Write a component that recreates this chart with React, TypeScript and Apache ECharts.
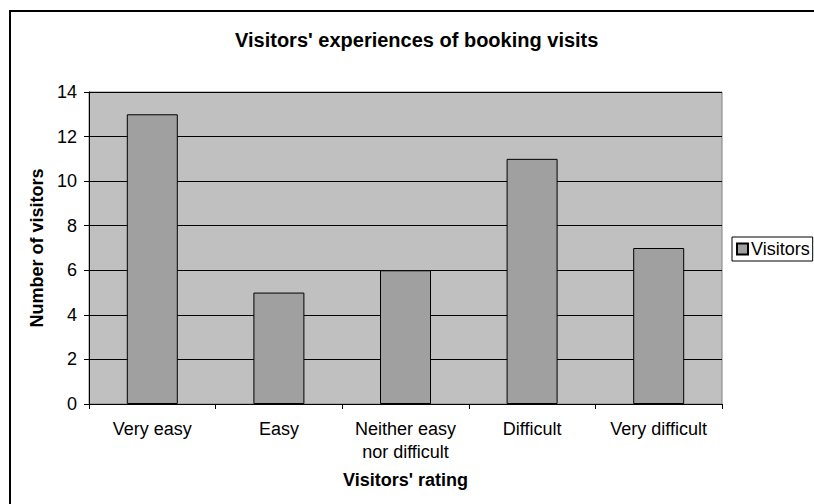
import React, { useEffect, useRef } from "react";
import * as echarts from "echarts";

const categories = ["Very easy", "Easy", "Neither easy\nnor difficult", "Difficult", "Very difficult"];
const visitors = [13, 5, 6, 11, 7];
const seriesName = "Visitors";
const titleText = "Visitors' experiences of booking visits";
const xAxisName = "Visitors' rating";
const yAxisName = "Number of visitors";
const yTicks = { min: 0, max: 14, interval: 2 };

const FONT = "'Liberation Sans', Arial, Helvetica, sans-serif";

export default function App() {
  const ref = useRef<HTMLDivElement>(null);
  useEffect(() => {
    if (!ref.current) return;
    const chart = echarts.init(ref.current, null, { renderer: "svg" });
    chart.setOption({
      animation: false,
      backgroundColor: "#ffffff",
      textStyle: { fontFamily: FONT },
      title: {
        text: titleText,
        left: 235,
        top: 30,
        padding: 0,
        textStyle: { fontFamily: FONT, fontSize: 20, fontWeight: "bold", color: "#000" },
      },
      legend: {
        left: 732,
        top: 237,
        orient: "vertical",
        padding: [3, 3, 3, 4],
        borderColor: "#000",
        borderWidth: 1,
        backgroundColor: "#fff",
        itemWidth: 11,
        itemHeight: 11,
        itemGap: 0,
        icon: "rect",
        textStyle: { fontFamily: FONT, fontSize: 18, color: "#000", padding: [0, 0, 0, -2] },
        data: [seriesName],
      },
      grid: {
        left: 89,
        right: 92,
        top: 92,
        bottom: 100,
        show: true,
        backgroundColor: "#c0c0c0",
        borderColor: "#808080",
        borderWidth: 1,
        containLabel: false,
      },
      xAxis: {
        type: "category",
        data: categories,
        name: xAxisName,
        nameLocation: "middle",
        nameGap: 67,
        nameTextStyle: { fontFamily: FONT, fontSize: 18, fontWeight: "bold", color: "#000" },
        axisLine: { lineStyle: { color: "#000", width: 1 } },
        axisTick: { show: true, length: 5, inside: false, lineStyle: { color: "#000" } },
        axisLabel: { fontFamily: FONT, fontSize: 18, color: "#000", margin: 13, lineHeight: 23, interval: 0 },
        splitLine: { show: false },
      },
      yAxis: {
        type: "value",
        min: yTicks.min,
        max: yTicks.max,
        interval: yTicks.interval,
        name: yAxisName,
        nameLocation: "middle",
        nameGap: 42,
        nameRotate: 90,
        nameTextStyle: { fontFamily: FONT, fontSize: 18, fontWeight: "bold", color: "#000" },
        axisLine: { show: true, lineStyle: { color: "#000", width: 1 } },
        axisTick: { show: true, length: 5, inside: false, lineStyle: { color: "#000" } },
        axisLabel: { fontFamily: FONT, fontSize: 18, color: "#000", margin: 12 },
        splitLine: { show: true, lineStyle: { color: "#000", width: 1 } },
      },
      series: [
        {
          name: seriesName,
          type: "bar",
          data: visitors,
          barWidth: 51,
          itemStyle: { color: "#a0a0a0", borderColor: "#000", borderWidth: 1 },
        },
      ],
      graphic: [
        {
          type: "rect",
          shape: { x: 10, y: 11, width: 900, height: 600 },
          style: { fill: "none", stroke: "#000", lineWidth: 2 },
          silent: true,
          z: 100,
        },
      ],
    });
    return () => chart.dispose();
  }, []);
  return (
    <div style={{ position: "absolute", left: 0, top: 0, width: 814, height: 504 }}>
      <div ref={ref} style={{ width: 814, height: 504 }} />
    </div>
  );
}
